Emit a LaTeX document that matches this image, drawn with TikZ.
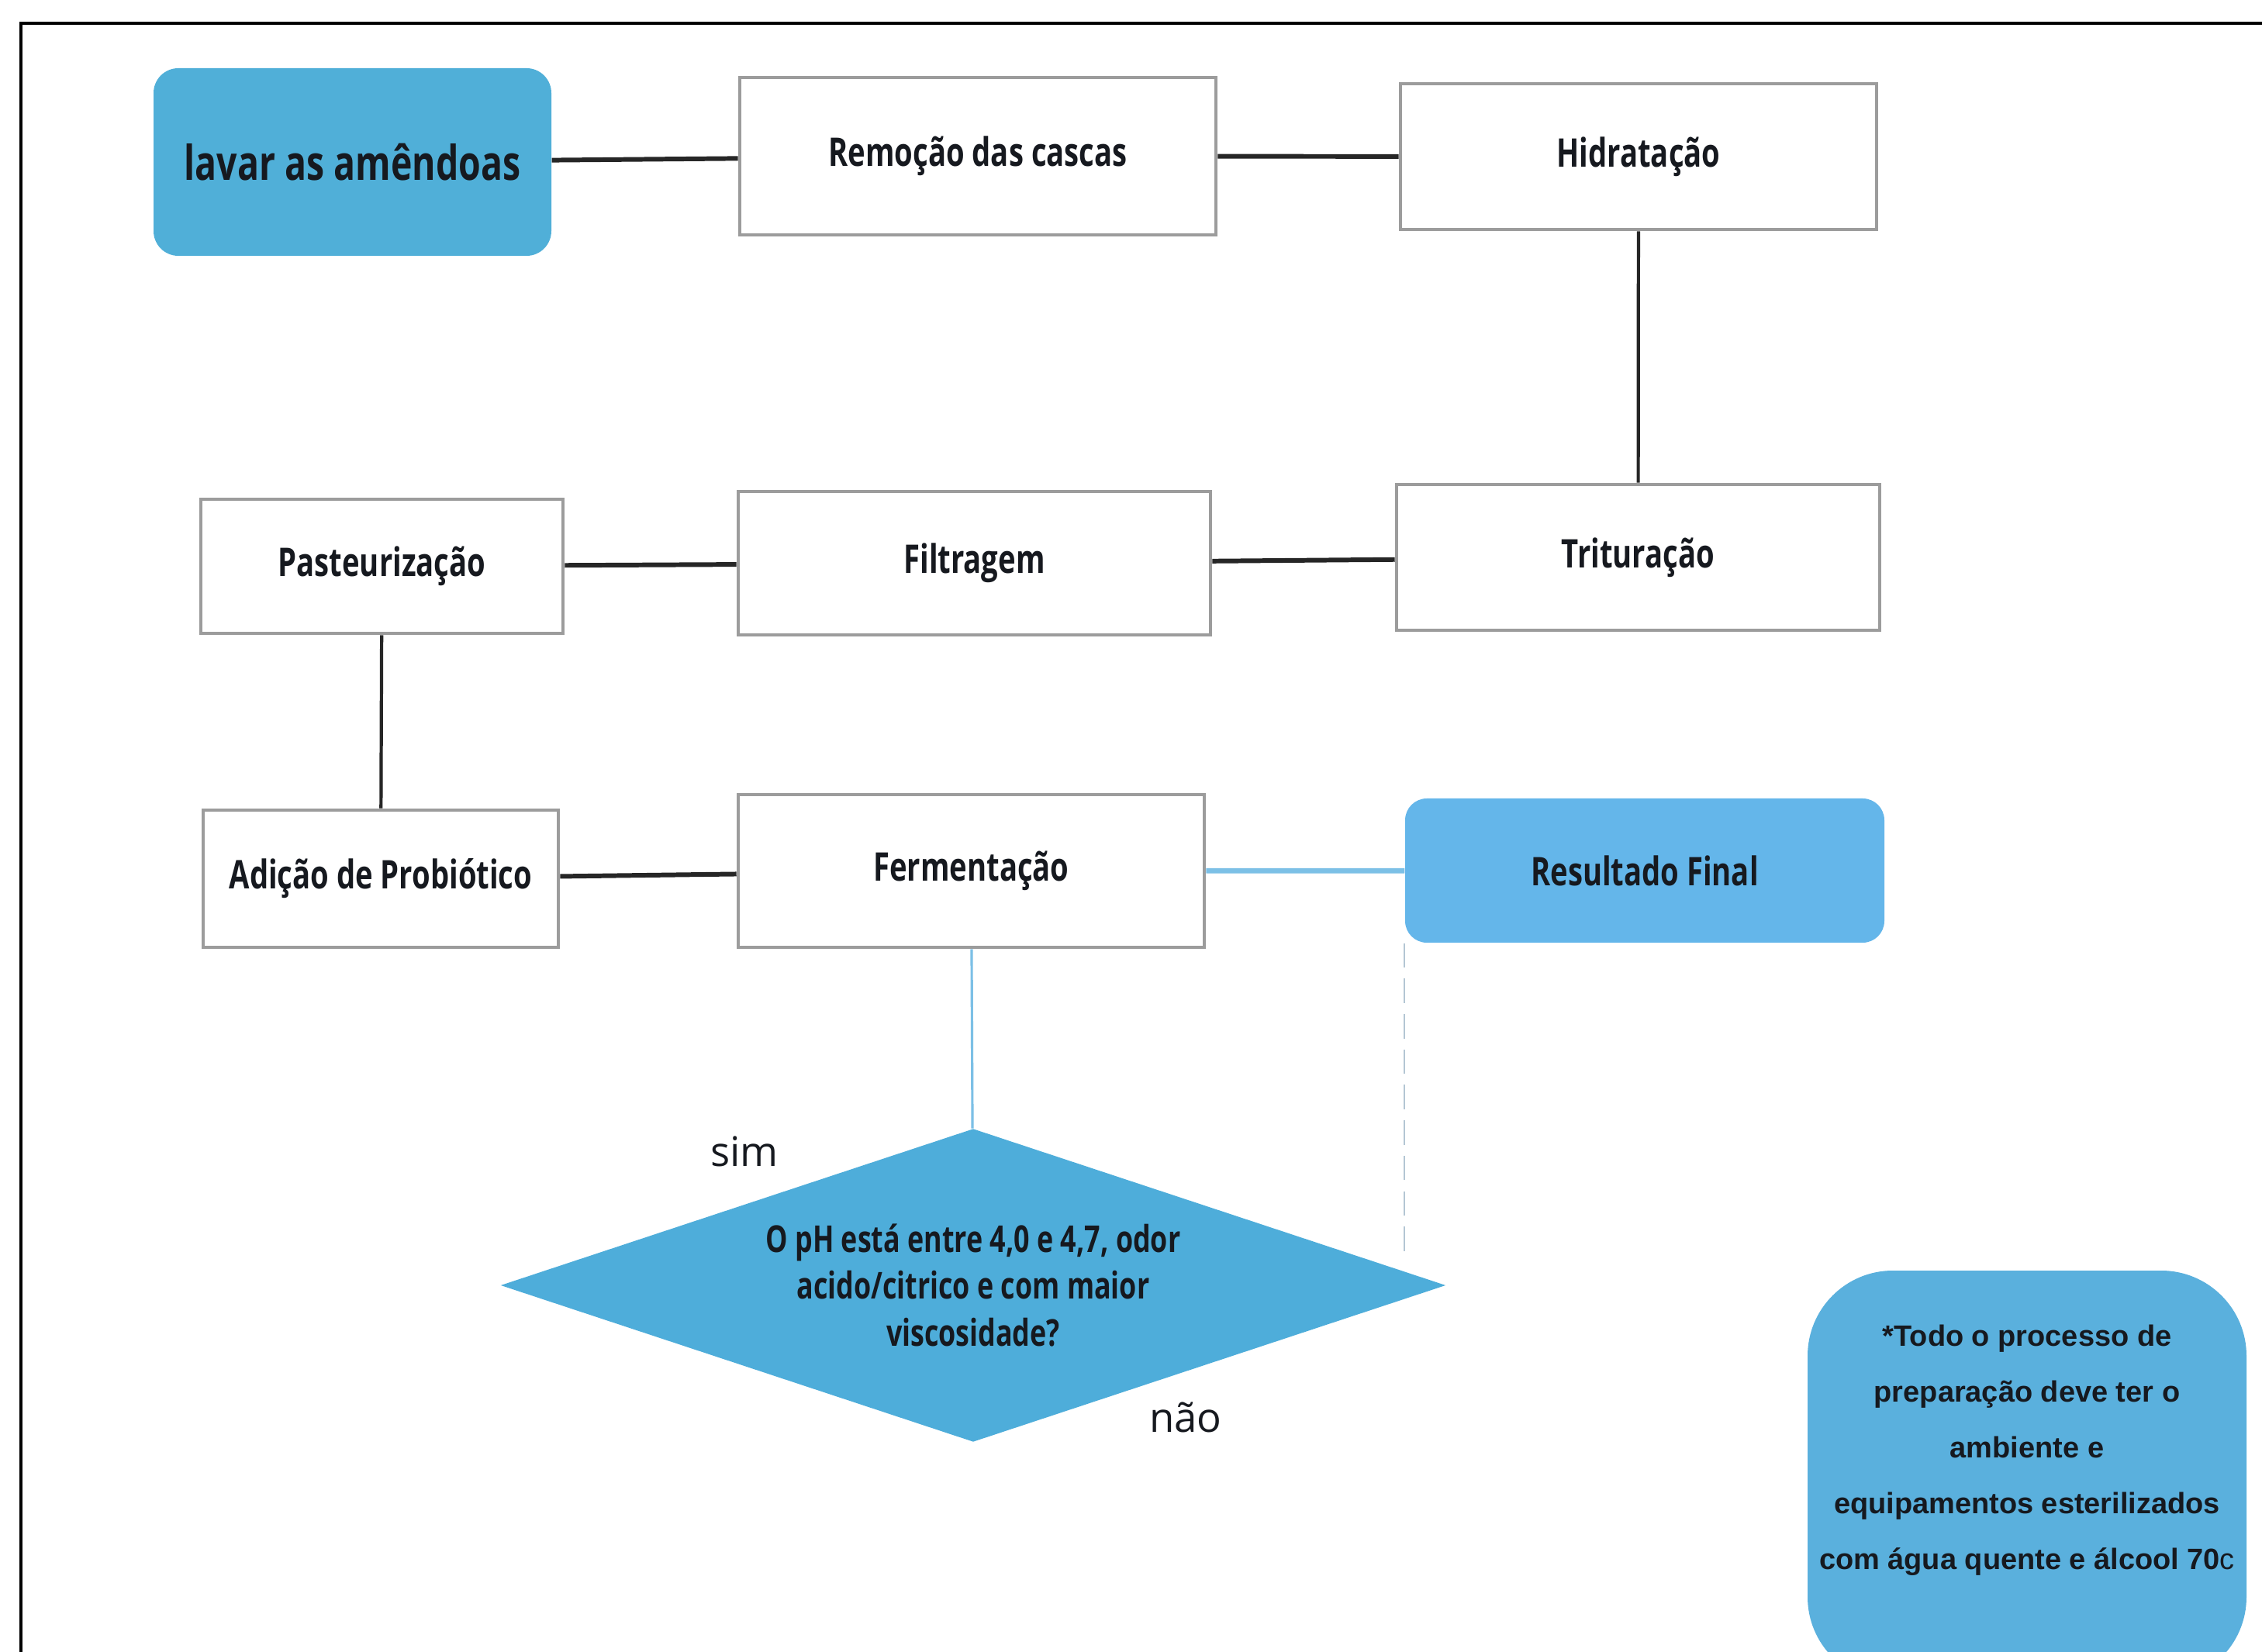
\documentclass[tikz,border=0pt]{standalone}
\usepackage{fontspec}
\setmainfont{Open Sans}
\newfontfamily\caixafont{Open Sans}[FakeStretch=0.75]
\newfontfamily\notafont{Liberation Sans}
\usetikzlibrary{shapes.geometric}

\definecolor{azulpasso}{HTML}{50AFD8}
\definecolor{azulfinal}{HTML}{64B6EA}
\definecolor{azuldecisao}{HTML}{4EADDA}
\definecolor{azulnota}{HTML}{5AB0DD}
\definecolor{azullinha}{HTML}{7CC0E6}
\definecolor{cinzacaixa}{HTML}{9C9C9C}
\definecolor{cinzatraco}{HTML}{B4C6D4}
\definecolor{textoescuro}{HTML}{16191F}

\tikzset{
  passo/.style={draw=cinzacaixa, line width=1.3pt, fill=white, text=textoescuro,
    font=\caixafont\bfseries\fontsize{14.5}{17}\selectfont, inner sep=0pt},
  inicio/.style={fill=azulpasso, rounded corners=0.32cm, text=textoescuro,
    font=\caixafont\bfseries\fontsize{17.6}{20}\selectfont, inner sep=0pt},
  final/.style={fill=azulfinal, rounded corners=0.28cm, text=textoescuro,
    font=\caixafont\bfseries\fontsize{14.5}{17}\selectfont, inner sep=0pt},
  decisao/.style={diamond, aspect=3, fill=azuldecisao, inner sep=0pt, text=textoescuro,
    align=center, font=\caixafont\bfseries\fontsize{13.6}{17.3}\selectfont},
  nota/.style={fill=azulnota, rounded corners=1.1cm, inner sep=0pt},
  notatexto/.style={align=center, text=textoescuro, inner sep=0pt,
    font=\notafont\bfseries\fontsize{10.8}{20.5}\selectfont},
  resposta/.style={text=textoescuro, inner sep=0pt, font=\fontsize{15}{18}\selectfont},
  liga/.style={line width=1.7pt, black!85},
  ligaazul/.style={line width=1.9pt, azullinha},
  tracejado/.style={line width=0.6pt, cinzatraco, dash pattern=on 9pt off 4pt}
}

\begin{document}
\begin{tikzpicture}
\useasboundingbox (0,0) rectangle (29.17,-21.31);
\clip (0,0) rectangle (29.17,-21.31);
\fill[white] (0,0) rectangle (29.17,-21.31);
\draw[line width=0.9pt] (0.27,-21.5) -- (0.27,-0.30) -- (29.4,-0.30);

% primeira linha
\node[inicio, minimum width=5.13cm, minimum height=2.42cm] (lavar) at (4.545,-2.09) {lavar as amêndoas};
\node[passo, minimum width=6.14cm, minimum height=2.03cm] (remocao) at (12.61,-2.015) {Remoção das cascas};
\node[passo, minimum width=6.14cm, minimum height=1.88cm] (hidrat) at (21.13,-2.02) {Hidratação};

% segunda linha
\node[passo, minimum width=4.67cm, minimum height=1.73cm] (pasteur) at (4.925,-7.305) {Pasteurização};
\node[passo, minimum width=6.09cm, minimum height=1.85cm] (filtr) at (12.565,-7.265) {Filtragem};
\node[passo, minimum width=6.23cm, minimum height=1.88cm] (tritur) at (21.125,-7.19) {Trituração};

% terceira linha
\node[passo, minimum width=4.58cm, minimum height=1.77cm] (adicao) at (4.91,-11.335) {Adição de Probiótico};
\node[passo, minimum width=6.01cm, minimum height=1.97cm] (ferment) at (12.525,-11.235) {Fermentação};
\node[final, minimum width=6.18cm, minimum height=1.86cm] (result) at (21.21,-11.23) {Resultado Final};

\node[decisao, minimum width=12.19cm, minimum height=4.04cm] (dec) at (12.55,-16.58)
  {O pH está entre 4,0 e 4,7, odor\\acido/citrico e com maior\\viscosidade?};
\node[resposta] (sim) at (9.60,-14.85) {sim};
\node[resposta] (nao) at (15.29,-18.28) {não};

\node[nota, minimum width=5.66cm, minimum height=5.31cm] (nota) at (26.14,-19.045) {};
\node[notatexto] (notatxt) at (26.14,-18.71) {*Todo o processo de\\preparação deve ter o\\ambiente e\\equipamentos esterilizados\\com água quente e álcool 70{\mdseries c}};

\draw[liga] (lavar) -- (remocao);
\draw[liga] (remocao) -- (hidrat);
\draw[liga, line width=1.2pt] (hidrat) -- (tritur);
\draw[liga] (tritur) -- (filtr);
\draw[liga] (filtr) -- (pasteur);
\draw[liga, line width=1.2pt] (pasteur) -- (adicao);
\draw[liga] (adicao) -- (ferment);
\draw[ligaazul] (ferment) -- (result);
\draw[ligaazul, line width=0.9pt] (ferment) -- (dec);
\draw[tracejado, shorten >=0.2cm] (result.south west) -- (result.south west |- dec.2);
\end{tikzpicture}
\end{document}
